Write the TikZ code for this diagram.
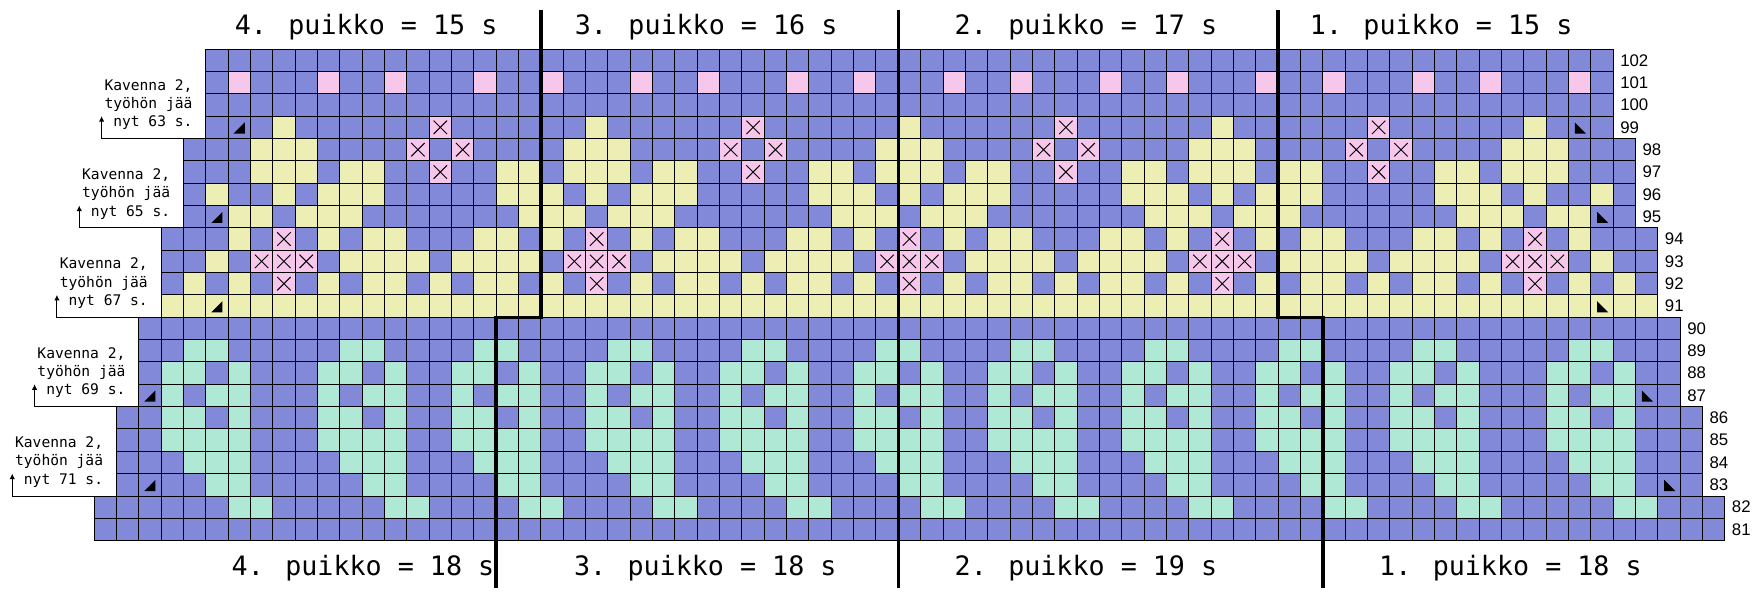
\documentclass[tikz,border=0pt]{standalone}
\usepackage{fontspec}
\setmainfont{Liberation Sans}
\newfontfamily\chartmono{DejaVu Sans Mono}
\usetikzlibrary{arrows.meta}

\definecolor{knitblue}{RGB}{130,137,217}
\definecolor{knityellow}{RGB}{236,238,180}
\definecolor{knitmint}{RGB}{176,232,214}
\definecolor{knitpink}{RGB}{246,198,235}

% cells of one colour in one row: colour, row, columns
\newcommand{\knitcells}[3]{%
  \foreach \cc in {#3} \fill[#1] (\cc,#2-81) rectangle ++(1,1);}
% crosses: row, columns
\newcommand{\knitcross}[2]{%
  \foreach \cc in {#2} \draw[cross] (\cc+0.2,#1-80.8) -- ++(0.6,0.6) (\cc+0.2,#1-80.2) -- ++(0.6,-0.6);}
% decrease marks: column, row
\newcommand{\decleft}[2]{\fill (#1+0.25,#2-80.78) -- ++(0.5,0) -- ++(0,0.5) -- cycle;}
\newcommand{\decright}[2]{\fill (#1+0.28,#2-80.78) -- ++(0.5,0) -- (#1+0.28,#2-80.28) -- cycle;}

\begin{document}
\begin{tikzpicture}[x=0.5cm,y=0.5cm,
  gridline/.style={line width=0.6pt,step=1},
  cross/.style={line width=0.6pt},
  divider/.style={line width=2.2pt},
  kavline/.style={line width=0.6pt,-{Latex[length=3.5pt,width=3.5pt]}},
  title/.style={font=\chartmono\fontsize{17}{20}\selectfont,inner sep=0pt},
  kavtext/.style={font=\chartmono\fontsize{9.3}{11.65}\selectfont,align=right,inner sep=0pt},
  rownum/.style={font=\fontsize{10.7}{12}\selectfont,inner sep=0pt}]
\fill[white] (-4.208,-2.256) rectangle (74.57,24.2);
\useasboundingbox (-4.208,-2.256) rectangle (74.57,24.2);

% background of each row block
\fill[knitblue] (0,0) rectangle (73,2);
\fill[knitblue] (1,2) rectangle (72,6);
\fill[knitblue] (2,6) rectangle (71,10);
\fill[knitblue] (3,10) rectangle (70,14);
\fill[knitblue] (4,14) rectangle (69,18);
\fill[knitblue] (5,18) rectangle (68,22);

% mint band
\knitcells{knitmint}{82}{6,7,13,14,19,20,25,26,31,32,37,38,43,44,49,50,55,56,61,62,68,69}
\knitcells{knitmint}{83}{5,6,12,13,18,19,24,25,30,31,36,37,42,43,48,49,54,55,60,61,67,68}
\knitcells{knitmint}{84}{4,5,6,11,12,13,17,18,19,23,24,25,29,30,31,35,36,37,41,42,43,47,48,49,53,54,55,59,60,61,66,67,68}
\knitcells{knitmint}{85}{3,4,5,6,10,11,12,13,16,17,18,19,22,23,24,25,28,29,30,31,34,35,36,37,40,41,42,43,46,47,48,49,52,53,54,55,58,59,60,61,65,66,67,68}
\knitcells{knitmint}{86}{3,4,6,10,11,13,16,17,19,22,23,25,28,29,31,34,35,37,40,41,43,46,47,49,52,53,55,58,59,61,65,66,68}
\knitcells{knitmint}{87}{3,5,6,10,12,13,16,18,19,22,24,25,28,30,31,34,36,37,40,42,43,46,48,49,52,54,55,58,60,61,65,67,68}
\knitcells{knitmint}{88}{3,4,6,10,11,13,16,17,19,22,23,25,28,29,31,34,35,37,40,41,43,46,47,49,52,53,55,58,59,61,65,66,68}
\knitcells{knitmint}{89}{4,5,11,12,17,18,23,24,29,30,35,36,41,42,47,48,53,54,59,60,66,67}

% yellow band
\fill[knityellow] (3,10) rectangle (70,11);
\knitcells{knityellow}{92}{4,6,10,12,13,15,17,18,20,24,26,27,29,31,32,34,38,40,41,43,45,46,48,52,54,55,57,59,60,62,66,68}
\knitcells{knityellow}{93}{5,11,12,13,14,16,17,18,19,25,26,27,28,30,31,32,33,39,40,41,42,44,45,46,47,53,54,55,56,58,59,60,61,67}
\knitcells{knityellow}{94}{6,10,12,13,17,18,20,24,26,27,31,32,34,38,40,41,45,46,48,52,54,55,59,60,62,66}
\knitcells{knityellow}{95}{6,7,9,10,11,19,20,21,23,24,25,33,34,35,37,38,39,47,48,49,51,52,53,61,62,63,65,66}
\knitcells{knityellow}{96}{5,8,10,11,12,18,19,20,22,24,25,26,32,33,34,36,38,39,40,46,47,48,50,52,53,54,60,61,62,64,67}
\knitcells{knityellow}{97}{7,8,9,11,12,18,19,21,22,23,25,26,32,33,35,36,37,39,40,46,47,49,50,51,53,54,60,61,63,64,65}
\knitcells{knityellow}{98}{7,8,9,21,22,23,35,36,37,49,50,51,63,64,65}
\knitcells{knityellow}{99}{8,22,36,50,64}

% pink stitches
\knitcells{knitpink}{92}{8,22,36,50,64}
\knitcells{knitpink}{93}{7,8,9,21,22,23,35,36,37,49,50,51,63,64,65}
\knitcells{knitpink}{94}{8,22,36,50,64}
\knitcells{knitpink}{97}{15,29,43,57}
\knitcells{knitpink}{98}{14,16,28,30,42,44,56,58}
\knitcells{knitpink}{99}{15,29,43,57}
\knitcells{knitpink}{101}{6,10,13,17,20,24,27,31,34,38,41,45,48,52,55,59,62,66}

% grid
\draw[gridline] (0,0) grid (73,2);
\draw[gridline] (1,2) grid (72,6);
\draw[gridline] (2,6) grid (71,10);
\draw[gridline] (3,10) grid (70,14);
\draw[gridline] (4,14) grid (69,18);
\draw[gridline] (5,18) grid (68,22);

\knitcross{92}{8,22,36,50,64}
\knitcross{93}{7,8,9,21,22,23,35,36,37,49,50,51,63,64,65}
\knitcross{94}{8,22,36,50,64}
\knitcross{97}{15,29,43,57}
\knitcross{98}{14,16,28,30,42,44,56,58}
\knitcross{99}{15,29,43,57}

% decreases
\decleft{2}{83} \decright{70}{83}
\decleft{2}{87} \decright{69}{87}
\decleft{5}{91} \decright{67}{91}
\decleft{5}{95} \decright{67}{95}
\decleft{6}{99} \decright{66}{99}

% needle borders
\draw[divider] (20,23.75) -- (20,10) -- (18,10) -- (18,-2.1);
\draw[divider] (36,23.75) -- (36,-2.1);
\draw[divider] (53,23.75) -- (53,10) -- (55,10) -- (55,-2.1);

\node[title] (top4) at (12.18,23.0) {4. puikko = 15 s};
\node[title] (top3) at (27.4,23.0) {3. puikko = 16 s};
\node[title] (top2) at (44.4,23.0) {2. puikko = 17 s};
\node[title] (top1) at (60.3,23.0) {1. puikko = 15 s};
\node[title] (bot4) at (12.04,-1.23) {4. puikko = 18 s};
\node[title] (bot3) at (27.36,-1.23) {3. puikko = 18 s};
\node[title] (bot2) at (44.4,-1.23) {2. puikko = 19 s};
\node[title] (bot1) at (63.4,-1.23) {1. puikko = 18 s};

% row numbers
\foreach \rr/\ee in {81/73,82/73,83/72,84/72,85/72,86/72,87/71,88/71,89/71,90/71,
  91/70,92/70,93/70,94/70,95/69,96/69,97/69,98/69,99/68,100/68,101/68,102/68}
  \node[rownum,anchor=west] (row\rr) at (\ee+0.3,\rr-80.5) {\rr};

% decrease notes
\foreach \rr/\kk/\nn in {83/0/71,87/1/69,91/2/67,95/3/65,99/4/63}{
  \node[kavtext,anchor=south east] (kav\rr) at (\kk+0.42,\rr-80.62) {Kavenna 2,\\työhön jää\\nyt \nn\ s.};
  \coordinate (kavedge\rr) at (\kk,\rr-81);
  \coordinate (kavfoot\rr) at (\kk-3.66,\rr-81);
  \draw[kavline] (kavedge\rr) -- (kavfoot\rr) -- ++(0,1);
}
\end{tikzpicture}
\end{document}
